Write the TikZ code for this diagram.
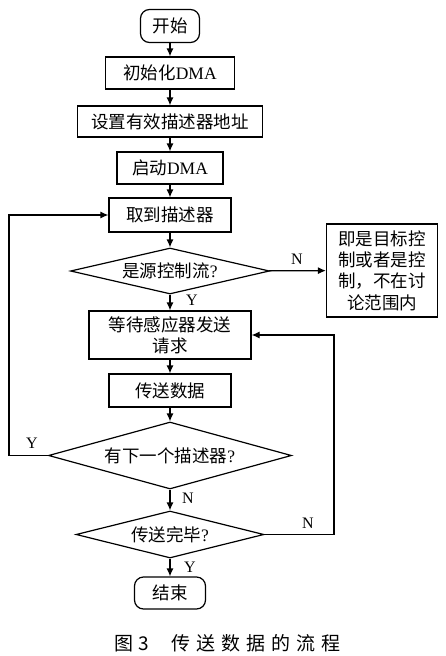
\documentclass[tikz,border=0pt]{standalone}
\usepackage{fontspec}
\setmainfont{Liberation Serif}
\newfontfamily\cjk{Noto Sans CJK SC}
\usetikzlibrary{arrows.meta,positioning,shapes.geometric}

\begin{document}
\begin{tikzpicture}[x=1pt, y=1pt,
  line width=1.2pt, >={Latex[length=8pt,width=7pt]},
  flowbase/.style={draw, inner sep=0pt, align=center,
               font=\fontsize{17.5}{21.3}\selectfont\cjk},
  flowbox/.style={flowbase, rectangle},
  term/.style={flowbase, rectangle, rounded corners=9pt},
  decision/.style={flowbase, diamond},
  lbl/.style={font=\fontsize{16}{18}\selectfont\rmfamily, inner sep=0pt}]
  \useasboundingbox (0,0) rectangle (445,-656);

  % main column
  \node[term, minimum width=59pt, minimum height=33pt] (start) at (170,-26) {开始};
  \node[flowbox, minimum width=129pt, minimum height=32pt] (init) at (170,-73) {初始化{\rmfamily DMA}};
  \node[flowbox, minimum width=185pt, minimum height=31pt] (setaddr) at (170,-121.5) {设置有效描述器地址};
  \node[flowbox, minimum width=106pt, minimum height=32pt] (run) at (170,-168) {启动{\rmfamily DMA}};
  \node[flowbox, minimum width=122pt, minimum height=34pt] (fetch) at (170,-215) {取到描述器};
  \node[decision, aspect=4.33, minimum width=199pt, minimum height=46pt] (isflow) at (170,-271) {是源控制流{\rmfamily ?}};
  \node[flowbox, minimum width=111pt, minimum height=93pt] (note) at (382,-270.5)
    {即是目标控\\制或者是控\\制，不在讨\\论范围内};
  \node[flowbox, minimum width=162pt, minimum height=48pt] (wait) at (170,-335) {等待感应器发送\\请求};
  \node[flowbox, minimum width=122pt, minimum height=33pt] (xfer) at (170,-390.5) {传送数据};
  \node[decision, aspect=3.63, minimum width=243pt, minimum height=67pt] (hasnext) at (170,-455.5) {有下一个描述器{\rmfamily ?}};
  \node[decision, aspect=4, minimum width=188pt, minimum height=47pt] (done) at (170,-534.5) {传送完毕{\rmfamily ?}};
  \node[term, minimum width=71pt, minimum height=32pt] (stop) at (170,-593) {结束};

  \draw[->] (start) -- (init);
  \draw[->] (init) -- (setaddr);
  \draw[->] (setaddr) -- (run);
  \draw[->] (run) -- (fetch);
  \draw[->] (fetch) -- (isflow);
  \draw[->] (isflow) -- (wait);
  \draw[->] (isflow) -- (note);
  \draw[->] (wait) -- (xfer);
  \draw[->] (xfer) -- (hasnext);
  \draw[->] (hasnext) -- (done);
  \draw[->] (done) -- (stop);

  % loops
  \coordinate (lp) at (9,-455.5);
  \coordinate (rp) at (334,-534.5);
  \draw[->] (hasnext.west) -- (lp) |- (fetch.west);
  \draw[->] (done.east) -- (rp) |- (wait.east);

  \node[lbl] (yflow) at (192,-300) {Y};
  \node[lbl] (nflow) at (297,-259) {N};
  \node[lbl] (ynext) at (32,-443) {Y};
  \node[lbl] (nnext) at (188,-498) {N};
  \node[lbl] (ndone) at (308,-523) {N};
  \node[lbl] (ydone) at (190,-567) {Y};

  \node[font=\fontsize{19}{22}\selectfont\cjk, inner sep=0pt] (cap) at (227.5,-643)
    {图\hspace{5pt}3\hspace{22pt}传\hspace{6pt}送\hspace{6pt}数\hspace{6pt}据\hspace{6pt}的\hspace{6pt}流\hspace{6pt}程};
\end{tikzpicture}
\end{document}
